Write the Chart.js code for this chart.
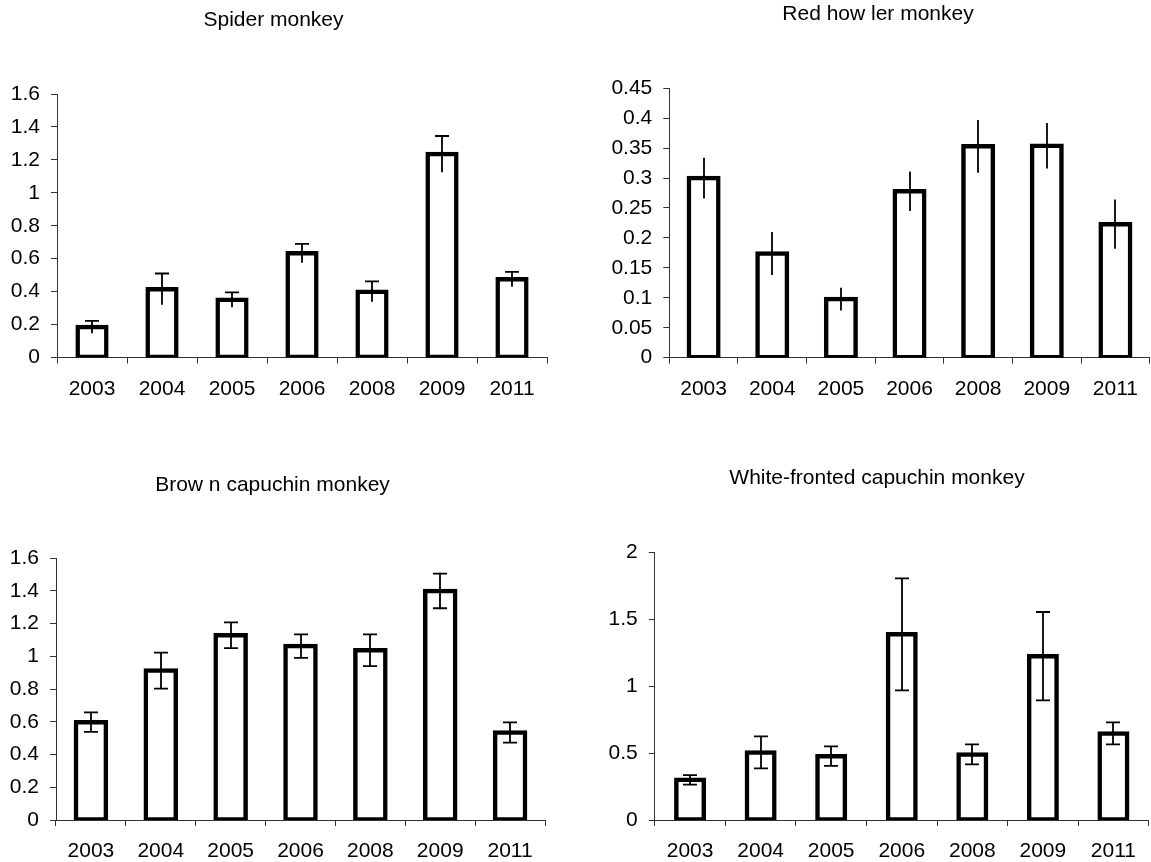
<!DOCTYPE html>
<html>
<head>
<meta charset="utf-8">
<script src="https://cdn.jsdelivr.net/npm/chart.js@4.4.1/dist/chart.umd.min.js"></script>
<style>
body { margin: 0; background: #fff; }
#wrap { position: relative; width: 1151px; height: 862px; overflow: hidden; }
canvas { position: absolute; }
</style>
</head>
<body>
<div id="wrap">
  <canvas id="spiderChart" width="554" height="420" style="left:0px;top:0px"></canvas>
  <canvas id="howlerChart" width="546" height="420" style="left:605px;top:0px"></canvas>
  <canvas id="brownChart" width="546" height="432" style="left:0px;top:430px"></canvas>
  <canvas id="whiteChart" width="544" height="432" style="left:605px;top:430px"></canvas>
</div>
<script>
const years = ['2003', '2004', '2005', '2006', '2008', '2009', '2011'];

const spider = [0.185, 0.415, 0.35, 0.633, 0.40, 1.235, 0.475];
const spiderErr = [0.037, 0.095, 0.045, 0.057, 0.062, 0.11, 0.045];
const spiderTicks = [0, 0.2, 0.4, 0.6, 0.8, 1, 1.2, 1.4, 1.6];

const howler = [0.30, 0.174, 0.098, 0.278, 0.353, 0.354, 0.223];
const howlerErr = [0.034, 0.036, 0.019, 0.033, 0.044, 0.038, 0.041];
const howlerTicks = [0, 0.05, 0.1, 0.15, 0.2, 0.25, 0.3, 0.35, 0.4, 0.45];

const brown = [0.598, 0.913, 1.129, 1.063, 1.038, 1.40, 0.535];
const brownErr = [0.06, 0.11, 0.079, 0.072, 0.097, 0.106, 0.062];
const brownTicks = [0, 0.2, 0.4, 0.6, 0.8, 1, 1.2, 1.4, 1.6];

const white = [0.30, 0.505, 0.477, 1.387, 0.49, 1.224, 0.647];
const whiteErr = [0.035, 0.12, 0.073, 0.418, 0.075, 0.33, 0.082];
const whiteTicks = [0, 0.5, 1, 1.5, 2];

Chart.defaults.font.family = '"Liberation Sans", Arial, sans-serif';
Chart.defaults.color = '#000';

// draws the whiskers on top of the bars
const errorBarPlugin = {
    id: 'errorBars',
    afterDatasetsDraw(chart, args, opts) {
        const ctx = chart.ctx;
        const meta = chart.getDatasetMeta(0);
        const yScale = chart.scales.y;
        const ds = chart.data.datasets[0];
        const half = opts.capWidth / 2;
        ctx.save();
        ctx.strokeStyle = '#000';
        ctx.lineWidth = opts.lineWidth;
        meta.data.forEach((bar, i) => {
            const v = ds.data[i];
            const e = ds.errors[i];
            const x = Math.round(bar.x);
            const yTop = yScale.getPixelForValue(v + e);
            const yBot = yScale.getPixelForValue(v - e);
            ctx.beginPath();
            ctx.moveTo(x, yTop);
            ctx.lineTo(x, yBot);
            if (opts.caps === 'top' || opts.caps === 'both') {
                ctx.moveTo(x - half, yTop);
                ctx.lineTo(x + half, yTop);
            }
            if (opts.caps === 'both') {
                ctx.moveTo(x - half, yBot);
                ctx.lineTo(x + half, yBot);
            }
            ctx.stroke();
        });
        ctx.restore();
    }
};

function makeChart(id, cfg) {
    let ctx = document.getElementById(id).getContext('2d');
    return new Chart(ctx, {
        type: 'bar',
        data: {
            labels: years,
            datasets: [{
                data: cfg.values,
                errors: cfg.errors,
                backgroundColor: '#fff',
                borderColor: '#000',
                borderWidth: 4.5,
                borderSkipped: false,
                inflateAmount: 2.25, // centre the outline on the bar edge, like the original
                categoryPercentage: 1,
                barPercentage: cfg.barPct
            }]
        },
        options: {
            responsive: false,
            animation: false,
            events: [],
            layout: { padding: { left: 0, right: cfg.padRight, top: 0, bottom: 0 } },
            plugins: {
                legend: { display: false },
                tooltip: { enabled: false },
                title: {
                    display: true,
                    text: cfg.title,
                    color: '#000',
                    font: { size: 21, weight: 'normal' },
                    padding: cfg.titlePad
                },
                errorBars: { caps: cfg.caps, capWidth: 14, lineWidth: 1.8 }
            },
            scales: {
                x: {
                    afterFit: axis => { axis.height = cfg.xHeight; },
                    grid: { drawOnChartArea: false, offset: true, tickLength: 6, color: '#333' },
                    border: { color: '#333', width: 1 },
                    ticks: { color: '#000', font: { size: 21 }, padding: 13, maxRotation: 0, autoSkip: false }
                },
                y: {
                    min: cfg.ticks[0],
                    max: cfg.ticks[cfg.ticks.length - 1],
                    afterBuildTicks: axis => { axis.ticks = cfg.ticks.map(v => ({ value: v })); },
                    afterFit: axis => { axis.width = cfg.yWidth; },
                    grid: { drawOnChartArea: false, tickLength: 6, color: '#333' },
                    border: { color: '#333', width: 1 },
                    ticks: { color: '#000', font: { size: 21 }, padding: 11, callback: v => String(v) }
                }
            }
        },
        plugins: [errorBarPlugin]
    });
}

document.addEventListener('DOMContentLoaded', function() {
    makeChart('spiderChart', {
        title: 'Spider monkey', values: spider, errors: spiderErr, ticks: spiderTicks,
        caps: 'top', barPct: 0.41, yWidth: 57, padRight: 7, xHeight: 62.5,
        titlePad: { top: 8, bottom: 60.8 }
    });
    makeChart('howlerChart', {
        title: 'Red how ler monkey', values: howler, errors: howlerErr, ticks: howlerTicks,
        caps: 'none', barPct: 0.43, yWidth: 64.3, padRight: 0, xHeight: 62.3,
        titlePad: { top: 2, bottom: 61 }
    });
    makeChart('brownChart', {
        title: 'Brow n capuchin monkey', values: brown, errors: brownErr, ticks: brownTicks,
        caps: 'both', barPct: 0.43, yWidth: 56, padRight: 1, xHeight: 42,
        titlePad: { top: 43, bottom: 60 }
    });
    makeChart('whiteChart', {
        title: 'White-fronted capuchin monkey', values: white, errors: whiteErr, ticks: whiteTicks,
        caps: 'both', barPct: 0.39, yWidth: 49.8, padRight: 0, xHeight: 42,
        titlePad: { top: 35.4, bottom: 61.7 }
    });
});
</script>
</body>
</html>
